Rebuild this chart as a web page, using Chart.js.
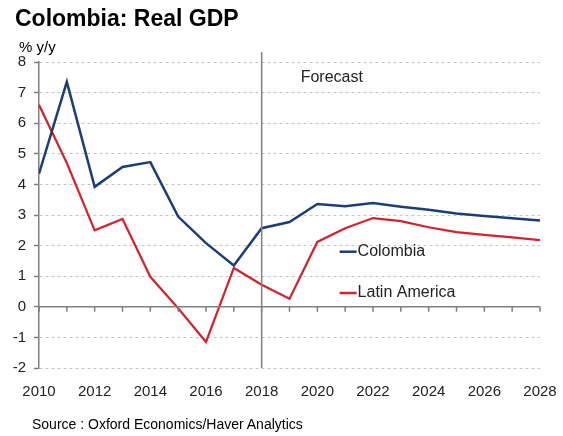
<!DOCTYPE html>
<html>
<head>
<meta charset="utf-8">
<script src="https://cdn.jsdelivr.net/npm/chart.js@4"></script>
<style>
  body { margin: 0; background: #fff; font-family: "Liberation Sans", Arial, sans-serif; }
  #wrap { position: relative; width: 563px; height: 436px; }
  #titulo { position: absolute; left: 15px; top: 5px; font-size: 23px; font-weight: bold; color: #000; }
  #unidade { position: absolute; left: 19px; top: 38px; font-size: 15px; color: #000; }
  #fonte { position: absolute; left: 32px; top: 416px; font-size: 14px; color: #000; }
  canvas { position: absolute; left: 0; top: 0; }
</style>
</head>
<body>
<div id="wrap">
  <canvas id="gdpChart" width="563" height="436"></canvas>
  <div id="titulo">Colombia: Real GDP</div>
  <div id="unidade">% y/y</div>
  <div id="fonte">Source : Oxford Economics/Haver Analytics</div>
</div>
<script>
// dados
const anos = [2010, 2011, 2012, 2013, 2014, 2015, 2016, 2017, 2018, 2019,
              2020, 2021, 2022, 2023, 2024, 2025, 2026, 2027, 2028];
const colombia = [4.35, 7.35, 3.92, 4.57, 4.73, 2.95, 2.08, 1.35, 2.57, 2.77,
                  3.36, 3.29, 3.39, 3.27, 3.17, 3.05, 2.97, 2.89, 2.82];
const latinAmerica = [6.6, 4.7, 2.5, 2.87, 0.98, -0.05, -1.15, 1.27, 0.72, 0.26,
                      2.12, 2.57, 2.9, 2.8, 2.6, 2.44, 2.35, 2.27, 2.18];
const yTicks = [-2, -1, 0, 1, 2, 3, 4, 5, 6, 7, 8];
const xTicks = [2010, 2012, 2014, 2016, 2018, 2020, 2022, 2024, 2026, 2028];
const anoPrevisao = 2018;

const corColombia = '#1b3d78';
const corLatam = '#d2232f';
const corEixo = '#7f7f7f';
const fonte = '"Liberation Sans", Arial, sans-serif';

function pontos(valores) {
    return anos.map((a, i) => ({ x: a, y: valores[i] }));
}

// linhas extras: eixo zero, marcas dos anos, linha da previsão, legenda
const extras = {
    id: 'extras',
    afterDraw(chart) {
        const ctx = chart.ctx;
        const x = chart.scales.x;
        const y = chart.scales.y;
        const area = chart.chartArea;
        ctx.save();
        ctx.strokeStyle = corEixo;
        ctx.lineWidth = 1.5;
        // eixo zero
        const y0 = y.getPixelForValue(0);
        ctx.beginPath();
        ctx.moveTo(area.left, y0);
        ctx.lineTo(area.right, y0);
        anos.forEach(a => {
            const px = x.getPixelForValue(a);
            ctx.moveTo(px, y0);
            ctx.lineTo(px, y0 + 5);
        });
        ctx.stroke();
        // linha da previsão
        const xf = x.getPixelForValue(anoPrevisao);
        ctx.beginPath();
        ctx.moveTo(xf, area.top - 10);
        ctx.lineTo(xf, area.bottom);
        ctx.stroke();
        ctx.fillStyle = '#222';
        ctx.font = '16px ' + fonte;
        ctx.textBaseline = 'middle';
        ctx.fillText('Forecast', xf + 39, area.top + 16);
        // legenda
        const itens = [
            { nome: 'Colombia', cor: corColombia, v: 1.8 },
            { nome: 'Latin America', cor: corLatam, v: 0.45 }
        ];
        itens.forEach(it => {
            const ly = y.getPixelForValue(it.v);
            const lx = x.getPixelForValue(2020.8);
            ctx.strokeStyle = it.cor;
            ctx.lineWidth = 2.5;
            ctx.beginPath();
            ctx.moveTo(lx, ly);
            ctx.lineTo(lx + 17, ly);
            ctx.stroke();
            ctx.fillStyle = '#222';
            ctx.fillText(it.nome, lx + 18, ly);
        });
        ctx.restore();
    }
};

var ctx = document.getElementById('gdpChart').getContext('2d');
var chart = new Chart(ctx, {
    type: 'line',
    data: {
        datasets: [{
            label: 'Colombia',
            data: pontos(colombia),
            borderColor: corColombia,
            borderWidth: 2.5,
            pointRadius: 0,
            tension: 0
        }, {
            label: 'Latin America',
            data: pontos(latinAmerica),
            borderColor: corLatam,
            borderWidth: 2.2,
            pointRadius: 0,
            tension: 0
        }]
    },
    options: {
        responsive: false,
        animation: false,
        layout: { padding: { left: 0, top: 62, right: 23, bottom: 0 } },
        plugins: {
            legend: { display: false },
            tooltip: { enabled: false }
        },
        scales: {
            x: {
                type: 'linear',
                min: 2010,
                max: 2028,
                afterBuildTicks: s => { s.ticks = xTicks.map(v => ({ value: v })); },
                afterFit: s => { s.height = 68; s.paddingLeft = 0; s.paddingRight = 0; },
                grid: { display: false },
                border: { display: false },
                ticks: {
                    color: '#222',
                    font: { size: 15, family: fonte },
                    padding: 7,
                    maxRotation: 0,
                    callback: v => String(v)
                }
            },
            y: {
                min: -2,
                max: 8,
                afterBuildTicks: s => { s.ticks = yTicks.map(v => ({ value: v })); },
                afterFit: s => { s.width = 39; s.paddingTop = 0; s.paddingBottom = 0; },
                grid: {
                    color: ctx => ctx.tick && ctx.tick.value === 0 ? 'rgba(0,0,0,0)' : '#c4c4c4',
                    lineWidth: 1,
                    drawTicks: true,
                    tickLength: 5,
                    tickColor: corEixo,
                    tickWidth: 1.5
                },
                border: {
                    display: true,
                    color: corEixo,
                    width: 1.5,
                    dash: ctx => ctx.tick ? [3, 3] : []
                },
                ticks: {
                    color: '#222',
                    font: { size: 15, family: fonte },
                    padding: 8
                }
            }
        }
    },
    plugins: [extras]
});
</script>
</body>
</html>
